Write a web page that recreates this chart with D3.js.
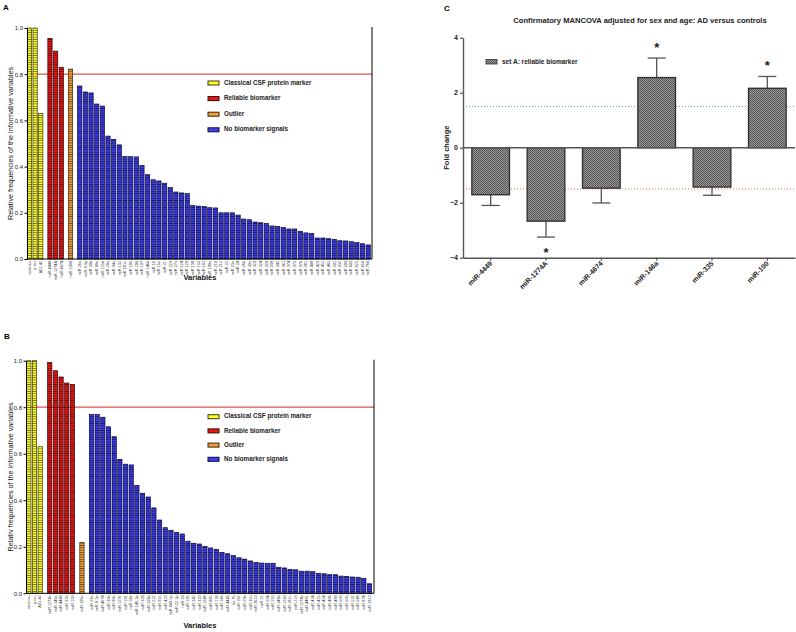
<!DOCTYPE html>
<html><head><meta charset="utf-8">
<script src="https://cdn.jsdelivr.net/npm/d3@7"></script>
<style>
html,body{margin:0;padding:0;background:#fff;}
svg{display:block;font-family:"Liberation Sans",Arial,sans-serif;}
</style></head>
<body><svg id="chart" width="796" height="632"></svg>
<script>
// ---------- DATA ----------
const legendLabels = ["Classical CSF protein marker","Reliable biomarker","Outlier","No biomarker signals"];

// Panel A
const classicalA_names = ["total tau","p-tau","Aβ1-42"];
const classicalA_vals  = [1.0, 1.0, 0.63];
const reliableA_names  = ["miR-4449","miR-1274A","miR-4674"];
const reliableA_vals   = [0.955, 0.90, 0.83];
const outlierA_names   = ["miR-1908"];
const outlierA_vals    = [0.822];
const noSignalA_names  = ["miR-26a","miR-9-3p","miR-30b","miR-99a","miR-125b","miR-29a","miR-34a","miR-132","miR-181c","miR-195","miR-206","miR-107","miR-146b","miR-16","miR-15a","miR-21","miR-223","miR-27a","miR-124","miR-128","miR-138","miR-155","miR-191","miR-199a","miR-210","miR-212","miR-22","miR-23a","miR-24","miR-26b","miR-30a","miR-320","miR-324","miR-328","miR-339","miR-342","miR-361","miR-374","miR-375","miR-376","miR-381","miR-409","miR-423","miR-451","miR-485","miR-501","miR-532","miR-590","miR-603","miR-625","miR-650","miR-766"];
const noSignalA_vals   = [0.749,0.723,0.719,0.671,0.662,0.532,0.518,0.494,0.444,0.443,0.442,0.405,0.365,0.343,0.338,0.328,0.309,0.29,0.286,0.283,0.232,0.229,0.227,0.222,0.221,0.2,0.2,0.2,0.19,0.173,0.17,0.16,0.157,0.154,0.143,0.141,0.136,0.13,0.13,0.12,0.113,0.11,0.091,0.091,0.088,0.085,0.079,0.078,0.075,0.071,0.066,0.061];

// Panel B
const classicalB_names = ["total tau","p-tau","Aβ1-42"];
const classicalB_vals  = [1.0, 1.0, 0.63];
const reliableB_names  = ["miR-1274a","miR-146a","miR-4449","miR-335","miR-100"];
const reliableB_vals   = [0.993, 0.957, 0.93, 0.904, 0.898];
const outlierB_names   = ["miR-106a"];
const outlierB_vals    = [0.219];
const noSignalB_names  = ["miR-26a","miR-9-3p","miR-4674","miR-30b","miR-99a","miR-1291","miR-191","miR-30c","miR-140-3p","miR-328","miR-106b","miR-222","miR-92a","miR-423","miR-660-5p","miR-22-3p","miR-16","miR-195","miR-342","miR-320","miR-1248","miR-885","miR-138","miR-143","miR-4443","let-7b","miR-182","miR-29b","miR-30d","miR-3613","miR-21","miR-204","miR-150","miR-148b","miR-1260","miR-181a","miR-223","miR-1274b","miR-4481","miR-424","miR-425","miR-454","miR-486","miR-489","miR-500","miR-505","miR-532","miR-548","miR-874","miR-1913"];
const noSignalB_vals   = [0.769,0.769,0.757,0.716,0.673,0.576,0.555,0.552,0.464,0.43,0.414,0.367,0.315,0.282,0.271,0.262,0.255,0.224,0.215,0.212,0.202,0.195,0.189,0.176,0.17,0.162,0.153,0.147,0.139,0.133,0.13,0.129,0.129,0.112,0.109,0.103,0.101,0.095,0.095,0.093,0.086,0.084,0.08,0.08,0.074,0.073,0.07,0.069,0.064,0.041];

const freqTicks = [0, 0.2, 0.4, 0.6, 0.8, 1.0];
const threshold = 0.8;

// Panel C
const cNames  = ["miR-4449","miR-1274A","miR-4674","miR-146a","miR-335","miR-100"];
const cValues = [-1.71, -2.67, -1.47, 2.55, -1.43, 2.16];
const cErrors = [-2.10, -3.25, -2.01, 3.26, -1.73, 2.59];
const cSignif = [false, true, false, true, false, true];
const cTicks  = [-4, -2, 0, 2, 4];
const cLimits = [1.5, -1.5];
const cTitle  = "Confirmatory MANCOVA adjusted for sex and age: AD versus controls";
const cLegend = "set A: reliable biomarker";

// ---------- DRAW ----------
const svg = d3.select("#chart");
const defs = svg.append("defs");
const groupColors = [
  {base:"#ffff2a", line:"#6e6e10", stroke:"#3a3a10"},
  {base:"#e81818", line:"#6a0808", stroke:"#3a0505"},
  {base:"#f0a040", line:"#7a4a14", stroke:"#3a2508"},
  {base:"#4040e8", line:"#141470", stroke:"#0a0a40"}
];
groupColors.forEach((c,i)=>{
  const p = defs.append("pattern").attr("id","pat"+i).attr("patternUnits","userSpaceOnUse")
    .attr("width",6).attr("height",2.3);
  p.append("rect").attr("width",6).attr("height",2.3).attr("fill",c.base);
  p.append("rect").attr("y",0).attr("width",6).attr("height",0.8).attr("fill",c.line);
});
// checker pattern for panel C
const cp = defs.append("pattern").attr("id","checker").attr("patternUnits","userSpaceOnUse")
  .attr("width",2).attr("height",2);
cp.append("rect").attr("width",2).attr("height",2).attr("fill","#9a9a9a");
cp.append("rect").attr("width",1).attr("height",1).attr("fill","#555");
cp.append("rect").attr("x",1).attr("y",1).attr("width",1).attr("height",1).attr("fill","#555");

function drawPanel(cfg){
  const g = svg.append("g");
  const groups = [
    {names:cfg.classicalNames, vals:cfg.classicalVals},
    {names:cfg.reliableNames, vals:cfg.reliableVals},
    {names:cfg.outlierNames, vals:cfg.outlierVals},
    {names:cfg.noNames, vals:cfg.noVals}
  ];
  const bars = [];
  let i = 0;
  groups.forEach((gr,gi)=>{
    gr.vals.forEach((v,k)=>{
      bars.push({name:gr.names[k], value:v, group:gi, pos:i + gi*cfg.gap});
      i++;
    });
  });
  const lastPos = bars[bars.length-1].pos;
  const x = d3.scaleLinear().domain([0,lastPos]).range([cfg.firstX, cfg.lastX]);
  const y = d3.scaleLinear().domain([0,1]).range([cfg.y0, cfg.y1]);
  const bw = 4.3;

  // threshold line
  g.append("line").attr("x1",cfg.axisX).attr("x2",cfg.rightX)
    .attr("y1",y(threshold)).attr("y2",y(threshold))
    .attr("stroke","#e05050").attr("stroke-width",1.2);

  g.selectAll("rect.bar").data(bars).join("rect").attr("class","bar")
    .attr("x",d=>x(d.pos)).attr("width",bw)
    .attr("y",d=>y(d.value)).attr("height",d=>y(0)-y(d.value))
    .attr("fill",d=>"url(#pat"+d.group+")")
    .attr("stroke",d=>groupColors[d.group].stroke).attr("stroke-width",0.7);

  // axes
  const ax = d3.axisLeft(y).tickValues(freqTicks).tickFormat(d3.format(".1f"))
    .tickSize(2.5).tickSizeOuter(0).tickPadding(1.5);
  const ag = g.append("g").attr("transform",`translate(${cfg.axisX},0)`).call(ax);
  ag.select(".domain").attr("stroke","#000").attr("stroke-width",1);
  ag.selectAll("text").attr("font-size","6px").attr("fill","#222");
  g.append("line").attr("x1",cfg.axisX).attr("x2",cfg.rightX).attr("y1",y(0)).attr("y2",y(0))
    .attr("stroke","#000").attr("stroke-width",1);
  g.append("line").attr("x1",cfg.rightX).attr("x2",cfg.rightX).attr("y1",y(1)-1).attr("y2",y(0))
    .attr("stroke","#000").attr("stroke-width",1);

  // x tick labels
  g.selectAll("text.xl").data(bars).join("text").attr("class","xl")
    .attr("transform",d=>`translate(${x(d.pos)+bw/2+1.3},${y(0)+2}) rotate(-90)`)
    .attr("text-anchor","end").attr("font-size","3.8px").attr("fill","#333")
    .text(d=>d.name);

  // titles
  g.append("text").attr("transform",`translate(${cfg.yTitleX},${(y(0)+y(1))/2}) rotate(-90)`)
    .attr("text-anchor","middle").attr("dominant-baseline","middle")
    .attr("font-size","7.2px").attr("fill","#111").text(cfg.yTitle);
  g.append("text").attr("x",200).attr("y",cfg.xTitleY).attr("text-anchor","middle")
    .attr("font-size","7.5px").attr("font-weight","bold").attr("fill","#111").text("Variables");
  g.append("text").attr("x",cfg.letterX).attr("y",cfg.letterY)
    .attr("font-size","8px").attr("font-weight","bold").text(cfg.letter);

  // legend
  legendLabels.forEach((lab,li)=>{
    const ly = cfg.legY + li*cfg.legStep;
    g.append("rect").attr("x",208).attr("y",ly-2).attr("width",11).attr("height",4)
      .attr("fill",groupColors[li].base).attr("stroke",groupColors[li].stroke).attr("stroke-width",1);
    g.append("text").attr("x",224).attr("y",ly).attr("dominant-baseline","middle")
      .attr("font-size","6.3px").attr("font-weight","bold").attr("fill","#222").text(lab);
  });
}

drawPanel({
  classicalNames:classicalA_names, classicalVals:classicalA_vals,
  reliableNames:reliableA_names, reliableVals:reliableA_vals,
  outlierNames:outlierA_names, outlierVals:outlierA_vals,
  noNames:noSignalA_names, noVals:noSignalA_vals,
  gap:0.63, firstX:27.3, lastX:366, axisX:27, rightX:372,
  y0:259, y1:28, yTitleX:11.5, yTitle:"Relative frequencies of the informative variables",
  xTitleY:280, letter:"A", letterX:3, letterY:10, legY:83, legStep:15.6
});
drawPanel({
  classicalNames:classicalB_names, classicalVals:classicalB_vals,
  reliableNames:reliableB_names, reliableVals:reliableB_vals,
  outlierNames:outlierB_names, outlierVals:outlierB_vals,
  noNames:noSignalB_names, noVals:noSignalB_vals,
  gap:0.68, firstX:26.7, lastX:367.3, axisX:26, rightX:374,
  y0:593.3, y1:360.7, yTitleX:11.5, yTitle:"Relativ frequencies of the informative variables",
  xTitleY:628, letter:"B", letterX:4, letterY:339, legY:416.7, legStep:14.2
});

// ---------- PANEL C ----------
const gc = svg.append("g");
const xc = d3.scaleBand().domain(cNames).range([463,795]).paddingInner(0.32).paddingOuter(0.16);
const yc = d3.scaleLinear().domain([-4,4]).range([257.7,37.7]);

// dotted limits
gc.selectAll("line.lim").data(cLimits).join("line").attr("class","lim")
  .attr("x1",463).attr("x2",795).attr("y1",d=>yc(d)).attr("y2",d=>yc(d))
  .attr("stroke",(d,i)=>i===0?"#5aae96":"#e06060").attr("stroke-width",1)
  .attr("stroke-dasharray","1,2");

// error bars
const cData = cNames.map((n,i)=>({name:n, value:cValues[i], err:cErrors[i], sig:cSignif[i]}));
gc.selectAll("line.eb").data(cData).join("line").attr("class","eb")
  .attr("x1",d=>xc(d.name)+xc.bandwidth()/2).attr("x2",d=>xc(d.name)+xc.bandwidth()/2)
  .attr("y1",d=>yc(d.value)).attr("y2",d=>yc(d.err))
  .attr("stroke","#555").attr("stroke-width",1.3);
gc.selectAll("line.cap").data(cData).join("line").attr("class","cap")
  .attr("x1",d=>xc(d.name)+xc.bandwidth()/2-9).attr("x2",d=>xc(d.name)+xc.bandwidth()/2+9)
  .attr("y1",d=>yc(d.err)).attr("y2",d=>yc(d.err))
  .attr("stroke","#555").attr("stroke-width",1.3);

gc.selectAll("rect.cb").data(cData).join("rect").attr("class","cb")
  .attr("x",d=>xc(d.name)).attr("width",xc.bandwidth())
  .attr("y",d=>yc(Math.max(0,d.value))).attr("height",d=>Math.abs(yc(d.value)-yc(0)))
  .attr("fill","url(#checker)").attr("stroke","#333").attr("stroke-width",1.4);

// zero line
gc.append("line").attr("x1",463).attr("x2",795).attr("y1",yc(0)).attr("y2",yc(0))
  .attr("stroke","#555").attr("stroke-width",1.4);

// stars
gc.selectAll("text.star").data(cData.filter(d=>d.sig)).join("text").attr("class","star")
  .attr("x",d=>xc(d.name)+xc.bandwidth()/2)
  .attr("y",d=>yc(d.err)+(d.err>0?-13:13))
  .attr("dy","0.72em").attr("text-anchor","middle")
  .attr("font-size","13px").attr("font-weight","bold").attr("fill","#222").text("*")
  .attr("transform","translate(0,-2.5)");

// axes
const yAxC = d3.axisLeft(yc).tickValues(cTicks).tickSize(3).tickSizeOuter(0).tickPadding(2);
const yag = gc.append("g").attr("transform","translate(463,0)").call(yAxC);
yag.select(".domain").attr("stroke","#555").attr("stroke-width",1.4);
yag.selectAll("line").attr("stroke","#555").attr("stroke-width",1.2);
yag.selectAll("text").attr("font-size","7px").attr("font-weight","bold").attr("fill","#222");

const xAxC = d3.axisBottom(xc).tickSize(3).tickSizeOuter(0).tickFormat("");
const xag = gc.append("g").attr("transform","translate(0,257.7)").call(xAxC);
xag.select(".domain").attr("stroke","#555").attr("stroke-width",1.4);
xag.selectAll("line").attr("stroke","#555").attr("stroke-width",1.2);
gc.selectAll("text.cx").data(cNames).join("text").attr("class","cx")
  .attr("transform",d=>`translate(${xc(d)+xc.bandwidth()/2+2},${264}) rotate(-45)`)
  .attr("text-anchor","end").attr("font-size","7px").attr("font-weight","bold").attr("fill","#222")
  .text(d=>d);

gc.append("text").attr("transform",`translate(447,${yc(0)}) rotate(-90)`)
  .attr("text-anchor","middle").attr("dominant-baseline","middle")
  .attr("font-size","7.5px").attr("font-weight","bold").attr("fill","#222").text("Fold change");
gc.append("text").attr("x",640).attr("y",23).attr("text-anchor","middle")
  .attr("font-size","7.6px").attr("font-weight","bold").attr("fill","#222").text(cTitle);
gc.append("text").attr("x",444).attr("y",11).attr("font-size","8px").attr("font-weight","bold").text("C");

gc.append("rect").attr("x",486).attr("y",59.5).attr("width",11).attr("height",4.5)
  .attr("fill","url(#checker)").attr("stroke","#333").attr("stroke-width",0.8);
gc.append("text").attr("x",502).attr("y",62).attr("dominant-baseline","middle")
  .attr("font-size","6.5px").attr("font-weight","bold").attr("fill","#222").text(cLegend);
</script></body></html>
